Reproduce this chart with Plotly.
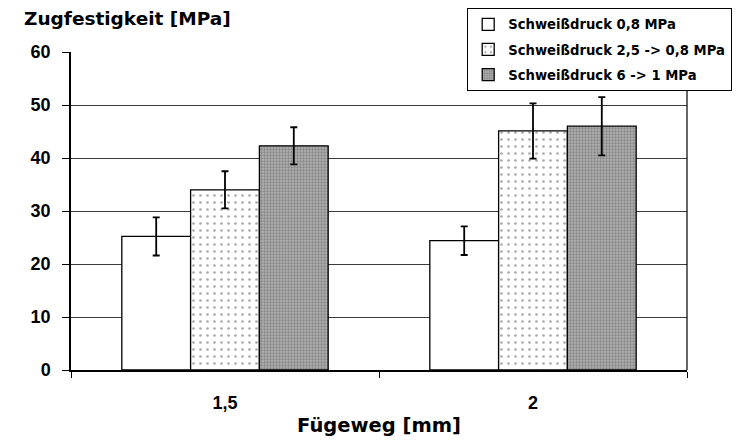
import plotly.graph_objects as go

categories = ["1,5", "2"]
series_names = ["Schweißdruck 0,8 MPa", "Schweißdruck 2,5 -> 0,8 MPa", "Schweißdruck 6 -> 1 MPa"]
values = [
    [25.2, 24.4],
    [34.0, 45.1],
    [42.3, 46.0],
]
errors = [
    [3.6, 2.7],
    [3.5, 5.2],
    [3.5, 5.5],
]
y_ticks = [0, 10, 20, 30, 40, 50, 60]

FONT = "Liberation Sans, Arial, sans-serif"
WIDE = "DejaVu Sans, sans-serif"

L, R, T, B = 71, 54, 52, 75
PW, PH = 741 - L - R, 445 - T - B

styles = [
    dict(color="white", pattern=None),
    dict(color="white", pattern=dict(shape=".", fgcolor="#555555", bgcolor="white", size=7, solidity=0.12)),
    dict(color="#9a9a9a", pattern=dict(shape=".", fgcolor="#5a5a5a", bgcolor="#b0b0b0", size=3, solidity=0.45)),
]

fig = go.Figure()
for i, (name, vals, errs, st) in enumerate(zip(series_names, values, errors, styles)):
    marker = dict(color=st["color"], line=dict(color="black", width=1.3))
    if st["pattern"]:
        marker["pattern"] = st["pattern"]
    fig.add_trace(go.Bar(
        x=categories, y=vals, name=name, marker=marker, legendgroup=f"g{i}",
        error_y=dict(type="data", array=errs, visible=True, color="black", thickness=1.8, width=3.5),
    ))

fig.update_layout(
    width=741, height=445,
    margin=dict(l=L, r=R, t=T, b=B, autoexpand=False),
    barmode="group", bargap=0.33, bargroupgap=0,
    plot_bgcolor="white", paper_bgcolor="white",
    font=dict(family=FONT, color="black", size=18),
    showlegend=True,
    legend=dict(
        x=(467 - L) / PW, y=1 + (T - 8) / PH, xanchor="left", yanchor="top",
        font=dict(family=WIDE, size=13.2, color="black", weight="bold"),
        bordercolor="black", borderwidth=1.2, bgcolor="white",
        itemwidth=30, tracegroupgap=5, traceorder="grouped",
    ),
    annotations=[
        dict(text="<b>Zugfestigkeit [MPa]</b>", xref="paper", yref="paper",
             x=(22 - L) / PW, y=1 + (T - 19) / PH, xanchor="left", yanchor="middle",
             showarrow=False, font=dict(family=WIDE, size=18.5, color="black")),
    ],
)

fig.update_xaxes(
    type="category", tickson="boundaries", ticks="outside", ticklen=6, tickcolor="black",
    showline=True, linecolor="black", linewidth=1.5, mirror=False,
    tickfont=dict(family=FONT, size=18, weight="bold"), ticklabelstandoff=16,
    title=dict(text="<b>Fügeweg [mm]</b>", font=dict(family=WIDE, size=19.5), standoff=6),
    showgrid=False,
)
fig.update_yaxes(
    range=[0, 60], tickvals=y_ticks, ticks="outside", ticklen=7, tickcolor="black",
    showline=True, linecolor="black", linewidth=1.5,
    tickfont=dict(family=FONT, size=18, weight="bold"), ticklabelstandoff=8,
    showgrid=True, gridcolor="#3a3a3a", gridwidth=1,
    zeroline=False,
)
# right frame line
fig.add_shape(type="line", xref="paper", yref="paper", x0=1, x1=1, y0=0, y1=1,
              line=dict(color="black", width=1.2))

fig.write_html("out.html")
